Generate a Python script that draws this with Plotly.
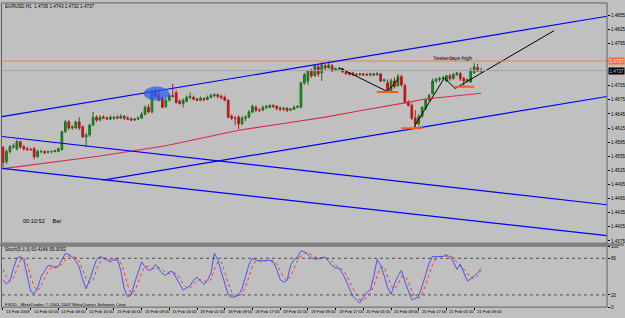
import plotly.graph_objects as go

# ---------------- data ----------------
bars = list(range(139))
time_ticks = list(range(0, 137, 8))
time_labels = ["13 Feb 2008", "14 Feb 00:00", "14 Feb 08:00", "14 Feb 16:00", "15 Feb 00:00",
               "15 Feb 08:00", "15 Feb 16:00", "18 Feb 01:00", "18 Feb 09:00", "18 Feb 17:00",
               "19 Feb 01:00", "19 Feb 09:00", "19 Feb 17:00", "20 Feb 01:00", "20 Feb 09:00",
               "20 Feb 17:00", "21 Feb 01:00", "21 Feb 09:00"]

opens = [1.4573, 1.4544, 1.4565, 1.4575, 1.4571, 1.4586, 1.4575, 1.4571, 1.4569, 1.4571,
         1.4554, 1.4565, 1.4565, 1.4563, 1.4565, 1.4565, 1.4565, 1.4569, 1.4607, 1.4628,
         1.4615, 1.4615, 1.4628, 1.4617, 1.4596, 1.4600, 1.4621, 1.4638, 1.4632, 1.4638,
         1.4636, 1.4634, 1.4636, 1.4638, 1.4636, 1.4640, 1.4636, 1.4634, 1.4632, 1.4634,
         1.4636, 1.4644, 1.4659, 1.4649, 1.4690, 1.4684, 1.4678, 1.4661, 1.4674, 1.4684,
         1.4690, 1.4672, 1.4667, 1.4672, 1.4680, 1.4680, 1.4676, 1.4674, 1.4678, 1.4676,
         1.4680, 1.4684, 1.4686, 1.4682, 1.4680, 1.4674, 1.4640, 1.4636, 1.4638, 1.4624,
         1.4636, 1.4638, 1.4649, 1.4659, 1.4653, 1.4653, 1.4659, 1.4659, 1.4663, 1.4661,
         1.4657, 1.4655, 1.4657, 1.4653, 1.4655, 1.4659, 1.4659, 1.4711, 1.4715, 1.4736,
         1.4726, 1.4745, 1.4732, 1.4747, 1.4743, 1.4747, 1.4738, 1.4741, 1.4741, 1.4734,
         1.4732, 1.4732, 1.4728, 1.4728, 1.4730, 1.4728, 1.4728, 1.4730, 1.4728, 1.4730,
         1.4715, 1.4711, 1.4695, 1.4715, 1.4705, 1.4724, 1.4705, 1.4669, 1.4663, 1.4636,
         1.4624, 1.4640, 1.4657, 1.4674, 1.4688, 1.4715, 1.4718, 1.4720, 1.4715, 1.4726,
         1.4720, 1.4728, 1.4730, 1.4720, 1.4715, 1.4713, 1.4732, 1.4743, 1.4736]
highs = [1.4577, 1.4569, 1.4579, 1.4582, 1.4590, 1.4588, 1.4579, 1.4575, 1.4573, 1.4575,
         1.4569, 1.4569, 1.4567, 1.4567, 1.4567, 1.4569, 1.4573, 1.4609, 1.4632, 1.4632,
         1.4621, 1.4630, 1.4638, 1.4621, 1.4605, 1.4624, 1.4649, 1.4642, 1.4642, 1.4642,
         1.4640, 1.4642, 1.4640, 1.4642, 1.4644, 1.4642, 1.4640, 1.4638, 1.4636, 1.4640,
         1.4649, 1.4663, 1.4665, 1.4695, 1.4699, 1.4695, 1.4682, 1.4678, 1.4688, 1.4709,
         1.4695, 1.4676, 1.4678, 1.4684, 1.4690, 1.4684, 1.4680, 1.4682, 1.4680, 1.4684,
         1.4688, 1.4688, 1.4688, 1.4686, 1.4684, 1.4676, 1.4644, 1.4640, 1.4642, 1.4640,
         1.4642, 1.4653, 1.4665, 1.4663, 1.4657, 1.4663, 1.4663, 1.4665, 1.4665, 1.4663,
         1.4661, 1.4659, 1.4659, 1.4657, 1.4663, 1.4663, 1.4713, 1.4732, 1.4738, 1.4741,
         1.4751, 1.4749, 1.4755, 1.4751, 1.4757, 1.4751, 1.4743, 1.4745, 1.4743, 1.4736,
         1.4734, 1.4734, 1.4732, 1.4732, 1.4732, 1.4732, 1.4732, 1.4732, 1.4734, 1.4732,
         1.4720, 1.4718, 1.4720, 1.4722, 1.4730, 1.4728, 1.4709, 1.4674, 1.4667, 1.4653,
         1.4644, 1.4661, 1.4678, 1.4688, 1.4720, 1.4722, 1.4724, 1.4726, 1.4728, 1.4730,
         1.4732, 1.4734, 1.4734, 1.4724, 1.4720, 1.4743, 1.4753, 1.4751, 1.4743]
lows = [1.4531, 1.4538, 1.4561, 1.4571, 1.4567, 1.4571, 1.4567, 1.4567, 1.4567, 1.4548,
        1.4552, 1.4561, 1.4559, 1.4561, 1.4561, 1.4563, 1.4563, 1.4567, 1.4605, 1.4611,
        1.4611, 1.4613, 1.4611, 1.4594, 1.4575, 1.4596, 1.4619, 1.4628, 1.4630, 1.4634,
        1.4632, 1.4632, 1.4632, 1.4634, 1.4634, 1.4632, 1.4632, 1.4630, 1.4630, 1.4632,
        1.4634, 1.4642, 1.4646, 1.4646, 1.4680, 1.4672, 1.4657, 1.4657, 1.4672, 1.4680,
        1.4667, 1.4665, 1.4659, 1.4669, 1.4676, 1.4674, 1.4672, 1.4672, 1.4672, 1.4674,
        1.4678, 1.4680, 1.4678, 1.4676, 1.4672, 1.4636, 1.4632, 1.4621, 1.4613, 1.4621,
        1.4630, 1.4636, 1.4646, 1.4649, 1.4649, 1.4651, 1.4655, 1.4657, 1.4657, 1.4653,
        1.4651, 1.4651, 1.4649, 1.4651, 1.4653, 1.4657, 1.4657, 1.4707, 1.4707, 1.4722,
        1.4724, 1.4724, 1.4715, 1.4738, 1.4741, 1.4734, 1.4736, 1.4736, 1.4732, 1.4728,
        1.4726, 1.4726, 1.4726, 1.4726, 1.4726, 1.4726, 1.4724, 1.4726, 1.4726, 1.4713,
        1.4713, 1.4690, 1.4692, 1.4699, 1.4703, 1.4703, 1.4667, 1.4661, 1.4632, 1.4615,
        1.4619, 1.4636, 1.4653, 1.4672, 1.4686, 1.4711, 1.4713, 1.4718, 1.4713, 1.4715,
        1.4718, 1.4726, 1.4715, 1.4701, 1.4711, 1.4711, 1.4730, 1.4734, 1.4732]
closes = [1.4542, 1.4565, 1.4575, 1.4577, 1.4586, 1.4575, 1.4571, 1.4569, 1.4569, 1.4554,
          1.4565, 1.4565, 1.4563, 1.4565, 1.4565, 1.4567, 1.4571, 1.4607, 1.4628, 1.4615,
          1.4617, 1.4628, 1.4615, 1.4596, 1.4600, 1.4621, 1.4638, 1.4632, 1.4638, 1.4636,
          1.4634, 1.4638, 1.4638, 1.4636, 1.4640, 1.4636, 1.4634, 1.4632, 1.4634, 1.4636,
          1.4644, 1.4659, 1.4649, 1.4690, 1.4682, 1.4674, 1.4659, 1.4674, 1.4684, 1.4682,
          1.4669, 1.4667, 1.4674, 1.4680, 1.4682, 1.4676, 1.4674, 1.4678, 1.4676, 1.4680,
          1.4684, 1.4686, 1.4682, 1.4680, 1.4674, 1.4638, 1.4636, 1.4636, 1.4624, 1.4636,
          1.4638, 1.4649, 1.4661, 1.4653, 1.4653, 1.4659, 1.4661, 1.4663, 1.4661, 1.4657,
          1.4655, 1.4657, 1.4653, 1.4655, 1.4659, 1.4661, 1.4711, 1.4728, 1.4736, 1.4726,
          1.4747, 1.4730, 1.4749, 1.4743, 1.4749, 1.4736, 1.4741, 1.4741, 1.4734, 1.4730,
          1.4730, 1.4728, 1.4728, 1.4730, 1.4728, 1.4728, 1.4730, 1.4728, 1.4730, 1.4715,
          1.4718, 1.4695, 1.4715, 1.4703, 1.4724, 1.4707, 1.4669, 1.4663, 1.4636, 1.4624,
          1.4640, 1.4659, 1.4674, 1.4684, 1.4715, 1.4718, 1.4720, 1.4722, 1.4726, 1.4720,
          1.4728, 1.4732, 1.4720, 1.4715, 1.4718, 1.4736, 1.4745, 1.4736, 1.4737]

# moving average read at selected bars
ma_bars = [0, 14, 28, 47, 61, 68, 80, 93, 103, 111, 116, 122, 138]
ma_vals = [1.45286, 1.45422, 1.45554, 1.45774, 1.46000, 1.46104, 1.46234, 1.46381,
           1.46517, 1.46611, 1.46684, 1.46768, 1.46889]

# stochastic (5,3,3)
stoch_main = [45, 38, 43, 64, 80, 83, 77, 50, 26, 22,
              32, 50, 60, 68, 68, 64, 67, 78, 88, 86,
              82, 76, 66, 45, 30, 45, 60, 78, 83, 80,
              78, 74, 78, 80, 60, 30, 17, 20, 40, 58,
              74, 66, 60, 62, 70, 62, 55, 52, 58, 58,
              49, 38, 28, 31, 35, 44, 49, 43, 37, 44,
              55, 88, 78, 58, 38, 20, 16, 17, 20, 30,
              50, 70, 80, 77, 75, 76, 77, 77, 74, 62,
              45, 41, 44, 68, 78, 82, 92, 91, 86, 81,
              79, 79, 81, 82, 75, 68, 64, 64, 55, 44,
              30, 18, 12, 7, 16, 24, 28, 50, 78, 68,
              52, 32, 21, 38, 51, 60, 42, 26, 12, 14,
              18, 35, 55, 72, 83, 83, 82, 83, 86, 82,
              74, 62, 70, 55, 43, 46, 51, 56, 63.4146]
stoch_signal = [62, 50, 42, 48, 62, 76, 80, 70, 51, 33,
                27, 35, 47, 59, 65, 67, 66, 70, 78, 84,
                85, 81, 75, 62, 47, 40, 45, 61, 74, 80,
                80, 77, 77, 77, 73, 57, 36, 22, 26, 39,
                57, 66, 67, 63, 64, 65, 62, 56, 55, 56,
                55, 48, 38, 32, 31, 37, 43, 45, 43, 41,
                45, 62, 74, 75, 58, 39, 25, 18, 18, 22,
                33, 50, 67, 76, 77, 76, 76, 77, 76, 71,
                60, 49, 43, 51, 63, 76, 84, 88, 90, 86,
                82, 80, 80, 81, 79, 75, 69, 65, 61, 54,
                43, 31, 20, 12, 12, 16, 23, 34, 52, 65,
                66, 51, 35, 30, 37, 50, 51, 43, 27, 17,
                15, 22, 36, 54, 70, 79, 83, 83, 84, 84,
                81, 73, 69, 62, 56, 48, 47, 51, 59.3092]

# drawn objects (bar index, price)
channel_lines = [((-0.29, 1.46391), (174.35, 1.48525)),
                 ((28.82, 1.45042), (174.35, 1.46820)),
                 ((-0.29, 1.45969), (174.35, 1.44519)),
                 ((-0.29, 1.45293), (174.35, 1.43864))]
zigzag1 = [(97.1, 1.47427), (110.95, 1.46925), (114.1, 1.47190)]
zigzag2 = [(118.7, 1.46178), (127.4, 1.47211), (130.5, 1.46990), (159.1, 1.48221)]
support_marks = [(107.9, 114.2, 1.46914), (114.9, 121.1, 1.46144), (130.3, 136.0, 1.47029)]
ellipse_box = (40.6, 48.0, 1.46735, 1.47030)
yesterday_high = 1.47573
bid_price = 1.4737
price_ticks = [1.4375, 1.4405, 1.4435, 1.4465, 1.4495, 1.4525, 1.4555, 1.4585,
               1.4615, 1.4645, 1.4675, 1.4705, 1.4795, 1.4825, 1.4855]

# ---------------- figure ----------------
W, H = 625, 318
BG = "#c0c0c0"
FONT = "Liberation Sans"
XR = [-0.29, 174.35]

def px(v):
    return v / W

def py(v):
    return 1 - v / H

fig = go.Figure()

fig.add_trace(go.Candlestick(
    x=bars, open=opens, high=highs, low=lows, close=closes,
    increasing=dict(line=dict(color="#1e6e1e", width=1), fillcolor="#119911"),
    decreasing=dict(line=dict(color="#b01818", width=1), fillcolor="#e01010"),
    whiskerwidth=0, xaxis="x", yaxis="y", showlegend=False, hoverinfo="skip"))

fig.add_trace(go.Scatter(x=ma_bars, y=ma_vals, mode="lines",
                         line=dict(color="#e0284c", width=1.1),
                         xaxis="x", yaxis="y", showlegend=False, hoverinfo="skip"))

for zz in (zigzag1, zigzag2):
    fig.add_trace(go.Scatter(x=[p[0] for p in zz], y=[p[1] for p in zz], mode="lines",
                             line=dict(color="#000000", width=1),
                             xaxis="x", yaxis="y", showlegend=False, hoverinfo="skip"))

fig.add_trace(go.Scatter(x=bars, y=stoch_signal, mode="lines",
                         line=dict(color="#ff3030", width=1, dash="dot"),
                         xaxis="x2", yaxis="y2", showlegend=False, hoverinfo="skip"))
fig.add_trace(go.Scatter(x=bars, y=stoch_main, mode="lines",
                         line=dict(color="#5050f0", width=1),
                         xaxis="x2", yaxis="y2", showlegend=False, hoverinfo="skip"))

shapes = []
# horizontal levels
shapes.append(dict(type="line", xref="x", yref="y", x0=XR[0], x1=XR[1],
                   y0=yesterday_high, y1=yesterday_high, line=dict(color="#ff7a4a", width=1)))
shapes.append(dict(type="line", xref="x", yref="y", x0=XR[0], x1=XR[1],
                   y0=bid_price, y1=bid_price, line=dict(color="#9aa3b4", width=1)))
# channel lines
for (a, b) in channel_lines:
    shapes.append(dict(type="line", xref="x", yref="y", x0=a[0], y0=a[1], x1=b[0], y1=b[1],
                       line=dict(color="#0000ff", width=1.2)))
# support marks
for (a, b, lv) in support_marks:
    shapes.append(dict(type="line", xref="x", yref="y", x0=a, x1=b, y0=lv, y1=lv,
                       line=dict(color="#ff5a1a", width=2)))
# ellipse
shapes.append(dict(type="circle", xref="x", yref="y", x0=ellipse_box[0], x1=ellipse_box[1],
                   y0=ellipse_box[2], y1=ellipse_box[3],
                   fillcolor="rgba(40,90,245,0.72)", line=dict(width=0)))
# stoch levels
for lv in (20, 80):
    shapes.append(dict(type="line", xref="x2", yref="y2", x0=XR[0], x1=XR[1], y0=lv, y1=lv,
                       line=dict(color="#505050", width=1, dash="dot")))
# frames
shapes.append(dict(type="rect", xref="paper", yref="paper", x0=px(1.5), x1=px(608), y0=py(245),
                   y1=py(1), line=dict(color="#606060", width=1)))
shapes.append(dict(type="rect", xref="paper", yref="paper", x0=px(1.5), x1=px(608), y0=py(310),
                   y1=py(248), line=dict(color="#606060", width=1)))
shapes.append(dict(type="rect", xref="paper", yref="paper", x0=0, x1=1, y0=py(248),
                   y1=py(245), fillcolor="#808080", line=dict(width=0)))
fig.update_layout(shapes=shapes)

ann = []
for t, lab in zip(time_ticks, time_labels):
    ann.append(dict(x=t, xref="x2", y=py(314), yref="paper", text=lab, showarrow=False,
                    xanchor="left", yanchor="middle", xshift=1, font=dict(family=FONT, size=4.2, color="#000")))
ann.append(dict(x=px(3), y=py(5), xref="paper", yref="paper", showarrow=False, xanchor="left",
                yanchor="middle", text="EURUSD,H1\u00a0\u00a01.4736 1.4743 1.4732 1.4737",
                font=dict(family=FONT, size=4.6, color="#000")))
ann.append(dict(x=px(3), y=py(251.5), xref="paper", yref="paper", showarrow=False, xanchor="left",
                yanchor="middle", text="Stoch(5,3,3) 63.4146 59.3092",
                font=dict(family=FONT, size=4.6, color="#000")))
ann.append(dict(x=px(3), y=py(307), xref="paper", yref="paper", showarrow=False, xanchor="left",
                yanchor="middle", text="FXDD - MetaTrader, \u00a9 2001-2007 MetaQuotes Software Corp.",
                font=dict(family=FONT, size=4.4, color="#000")))
ann.append(dict(x=px(21), y=py(223), xref="paper", yref="paper", showarrow=False, xanchor="left",
                yanchor="middle", text="00:10:52\u00a0\u00a0\u00a0\u00a0\u00a0Bar",
                font=dict(family=FONT, size=5.6, color="#000")))
ann.append(dict(x=px(432), y=py(57), xref="paper", yref="paper", showarrow=False, xanchor="left",
                yanchor="middle", text="Yesterdays high",
                font=dict(family=FONT, size=5.5, color="#000")))
ann.append(dict(x=px(609), y=yesterday_high, xref="paper", yref="y", showarrow=False, xanchor="left",
                yanchor="middle", text="1.4757", bgcolor="#ff6a30", borderpad=0.5,
                font=dict(family=FONT, size=4.6, color="#ffffff")))
ann.append(dict(x=px(609), y=bid_price, xref="paper", yref="y", showarrow=False, xanchor="left",
                yanchor="middle", text="1.4737", bgcolor="#000000", borderpad=0.5,
                font=dict(family=FONT, size=4.6, color="#d0d0d0")))
fig.update_layout(annotations=ann)

fig.update_layout(
    width=W, height=H, margin=dict(l=0, r=0, t=0, b=0),
    paper_bgcolor=BG, plot_bgcolor=BG, showlegend=False,
    font=dict(family=FONT, size=5, color="#000"),
    xaxis=dict(domain=[px(2), px(608)], range=XR, anchor="y", visible=False,
               rangeslider=dict(visible=False), fixedrange=True),
    xaxis2=dict(domain=[px(2), px(608)], range=XR, anchor="y2", matches="x",
                showgrid=False, zeroline=False, showline=False, tickmode="array",
                tickvals=time_ticks, ticks="outside", ticklen=2, tickcolor="#000",
                showticklabels=False),
    yaxis=dict(domain=[py(245), py(2)], range=[1.43703, 1.48786], anchor="x", side="right",
               tickmode="array", tickvals=price_ticks, ticktext=[f"{v:.4f}" for v in price_ticks],
               ticks="outside", ticklen=2, tickcolor="#000", showgrid=False, zeroline=False,
               tickfont=dict(family=FONT, size=4.6, color="#000")),
    yaxis2=dict(domain=[py(310), py(248)], range=[0, 100], anchor="x2", side="right",
                tickmode="array", tickvals=[0, 20, 80, 100], ticks="outside", ticklen=2,
                tickcolor="#000", showgrid=False, zeroline=False,
                tickfont=dict(family=FONT, size=4.6, color="#000")),
)

fig.write_html("out.html")
